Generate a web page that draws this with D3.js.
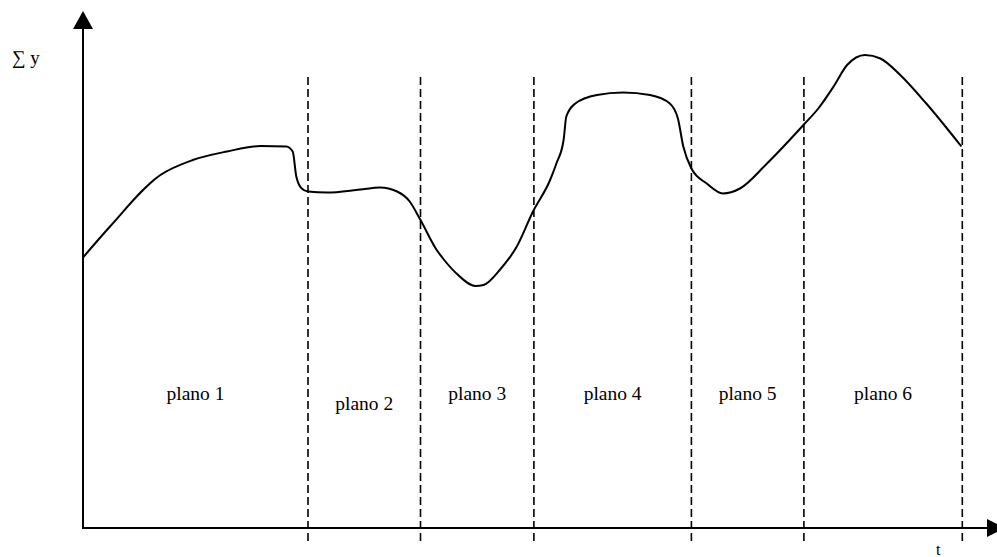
<!DOCTYPE html>
<html>
<head>
<meta charset="utf-8">
<script src="https://cdn.jsdelivr.net/npm/d3@7"></script>
<style>
  html, body { margin: 0; padding: 0; background: #fff; }
  svg { display: block; font-family: "Liberation Serif", "Times New Roman", serif; }
</style>
</head>
<body>
<svg id="chart" width="997" height="557"></svg>
<script>
// Courbe : temps t et somme des y (unités arbitraires)
const tValues = [0, 3.0, 8.6, 12.2, 16.0, 19.7, 22.6, 23.3, 23.7, 24.3, 25.0, 27.1, 30.8, 33.0,
  34.9, 36.3, 37.5, 39.3, 40.0, 41.5, 43.6, 44.5, 46.3, 48.2, 50.0, 51.9, 52.6, 53.4, 53.7,
  54.7, 57.1, 60.0, 63.0, 65.2, 66.1, 66.7, 67.6, 69.3, 71.1, 73.0, 76.0, 80.1, 81.7, 83.4,
  84.9, 86.9, 88.6, 90.8, 93.7, 97.6];
const sumY = [54.1, 60.3, 70.6, 73.6, 75.3, 76.4, 76.3, 75.3, 70.3, 67.9, 67.3, 67.1, 67.7, 68.1,
  67.3, 65.3, 61.6, 55.6, 53.9, 50.9, 48.4, 48.6, 51.6, 56.3, 63.3, 69.6, 72.9, 77.6, 82.3,
  84.9, 86.6, 87.1, 86.6, 84.9, 81.9, 76.3, 71.9, 68.9, 66.9, 67.9, 72.9, 80.7, 83.9, 88.3,
  92.6, 94.6, 93.9, 90.6, 84.9, 76.3];

// Limites des plans (t)
const planBounds = [0, 25, 37.5, 50.1, 67.6, 80.1, 97.7];
const planLabels = ["plano 1", "plano 2", "plano 3", "plano 4", "plano 5", "plano 6"];

const svg = d3.select("#chart");
const width = 997;
const height = 557;

const x0 = 83;      // position de l'axe vertical
const yAxis = 528;  // position de l'axe horizontal

const xScale = d3.scaleLinear().domain([0, 100]).range([x0, x0 + 900]);
const yScale = d3.scaleLinear().domain([0, 100]).range([yAxis, yAxis - 500]);

const data = tValues.map((t, i) => ({ t: t, v: sumY[i] }));

// Lignes pointillées verticales
svg.selectAll("line.sep")
  .data(planBounds.slice(1))
  .enter()
  .append("line")
  .attr("class", "sep")
  .attr("x1", (d) => xScale(d))
  .attr("x2", (d) => xScale(d))
  .attr("y1", 77)
  .attr("y2", 541)
  .attr("stroke", "#000")
  .attr("stroke-width", 1.6)
  .attr("stroke-dasharray", "8,4");

// Axes avec flèches
svg.append("line")
  .attr("x1", x0).attr("x2", x0)
  .attr("y1", yAxis + 1).attr("y2", yScale(100))
  .attr("stroke", "#000").attr("stroke-width", 2);
svg.append("path")
  .attr("d", `M${x0 - 10},${yScale(100) + 1} L${x0 + 10},${yScale(100) + 1} L${x0},${yScale(100) - 17} Z`)
  .attr("fill", "#000");

svg.append("line")
  .attr("x1", x0 - 1).attr("x2", 988)
  .attr("y1", yAxis).attr("y2", yAxis)
  .attr("stroke", "#000").attr("stroke-width", 2);
svg.append("path")
  .attr("d", `M987,${yAxis - 9} L987,${yAxis + 9} L1005,${yAxis} Z`)
  .attr("fill", "#000");

// Courbe
const line = d3.line()
  .x((d) => xScale(d.t))
  .y((d) => yScale(d.v))
  .curve(d3.curveMonotoneX);

svg.append("path")
  .datum(data)
  .attr("fill", "none")
  .attr("stroke", "#000")
  .attr("stroke-width", 2)
  .attr("d", line);

// Étiquettes des plans
svg.selectAll("text.plan")
  .data(planLabels)
  .enter()
  .append("text")
  .attr("class", "plan")
  .attr("x", (d, i) => xScale((planBounds[i] + planBounds[i + 1]) / 2))
  .attr("y", (d, i) => (i === 1 ? 410 : 400))
  .attr("text-anchor", "middle")
  .attr("font-size", 19.5)
  .attr("fill", "#000")
  .text((d) => d);

// Titres des axes
svg.append("text")
  .attr("x", 12).attr("y", 64)
  .attr("font-size", 19)
  .text("\u2211 y");

svg.append("text")
  .attr("x", 936).attr("y", 555)
  .attr("font-size", 16)
  .text("t");
</script>
</body>
</html>
